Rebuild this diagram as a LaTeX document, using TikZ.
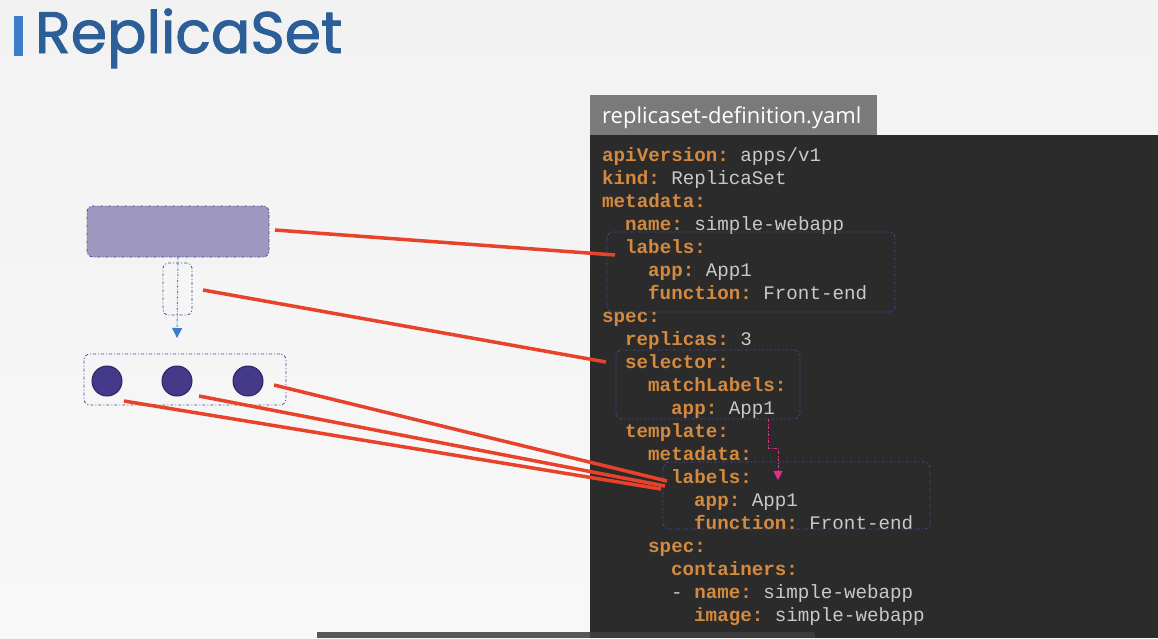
\documentclass[tikz,border=0pt]{standalone}
\usepackage{fontspec}
\setmainfont{Liberation Sans}
\newfontfamily\titlefont{Poppins}[FakeBold=1.6]
\newfontfamily\tabfont{Open Sans}
\newfontfamily\codefont{Liberation Mono}
\usetikzlibrary{arrows.meta}
\definecolor{bg}{HTML}{F2F2F2}
\definecolor{bgb}{HTML}{F8F8F8}
\definecolor{panel}{HTML}{2B2B2B}
\definecolor{tabgray}{HTML}{7A7A7A}
\definecolor{titleblue}{HTML}{2C5F98}
\definecolor{barblue}{HTML}{3B7DC8}
\definecolor{ykey}{HTML}{D48A3E}
\definecolor{yval}{HTML}{C9C9C9}
\definecolor{boxline}{HTML}{4A4890}
\definecolor{rsfill}{HTML}{9E97C0}
\definecolor{podfill}{HTML}{453A8A}
\definecolor{podline}{HTML}{2E2660}
\definecolor{redline}{HTML}{E8432A}
\definecolor{pinkline}{HTML}{E0308A}
\definecolor{botbar}{HTML}{575757}
\definecolor{botbarb}{HTML}{3C3C3C}
\newcommand\ysp{\hspace*{11.52pt}}
\newcommand\ykv[2]{{\color{ykey}\bfseries #1:}\ysp{\color{yval}#2}}
\newcommand\yk[1]{{\color{ykey}\bfseries #1:}}
\tikzset{
  dashbox/.style={draw=boxline, line width=0.8pt, rounded corners=6pt,
    dash pattern=on 3pt off 2pt on 1pt off 2pt},
  codeline/.style={anchor=base west, inner sep=0pt, font=\codefont\fontsize{19.2}{23}\selectfont},
  redconn/.style={draw=redline, line width=3.5pt},
  pod/.style={circle, fill=podfill, draw=podline, line width=1pt, minimum size=30pt, inner sep=0pt},
}
\begin{document}
\begin{tikzpicture}[x=1pt,y=-1pt]
\useasboundingbox (0,0) rectangle (1158,638);
\shade[top color=bg, bottom color=bgb] (0,0) rectangle (1158,638);
% title
\fill[barblue] (14,16) rectangle (23,56);
\node[anchor=base west, inner sep=0pt, text=titleblue, font=\titlefont\fontsize{58.5}{62}\selectfont] (title) at (35,53) {ReplicaSet};
% panel
\fill[panel] (590,135) rectangle (1158,638);
\fill[tabgray] (590,95) rectangle (877,135);
\node[anchor=base west, inner sep=0pt, text=white, font=\tabfont\fontsize{22}{26}\selectfont] (tab) at (602,123) {replicaset-definition.yaml};
\fill[botbar] (317,632) rectangle (590,638);
\fill[botbarb] (590,632) rectangle (815,638);
% code lines
\node[codeline] (l0) at (602,161) {\ykv{apiVersion}{apps/v1}};
\node[codeline] (l1) at (602,184) {\ykv{kind}{ReplicaSet}};
\node[codeline] (l2) at (602,207) {\yk{metadata}};
\node[codeline] (l3) at (625,230) {\ykv{name}{simple-webapp}};
\node[codeline] (l4) at (625,253) {\yk{labels}};
\node[codeline] (l5) at (648,276) {\ykv{app}{App1}};
\node[codeline] (l6) at (648,299) {\ykv{function}{Front-end}};
\node[codeline] (l7) at (602,322) {\yk{spec}};
\node[codeline] (l8) at (625,345) {\ykv{replicas}{3}};
\node[codeline] (l9) at (625,368) {\yk{selector}};
\node[codeline] (l10) at (648,391) {\yk{matchLabels}};
\node[codeline] (l11) at (671,414) {\ykv{app}{App1}};
\node[codeline] (l12) at (625,437) {\yk{template}};
\node[codeline] (l13) at (648,460) {\yk{metadata}};
\node[codeline] (l14) at (671,483) {\yk{labels}};
\node[codeline] (l15) at (694,506) {\ykv{app}{App1}};
\node[codeline] (l16) at (694,529) {\ykv{function}{Front-end}};
\node[codeline] (l17) at (648,552) {\yk{spec}};
\node[codeline] (l18) at (671,575) {\yk{containers}};
\node[codeline] (l19) at (671,598) {{\color{yval}-}\ysp\ykv{name}{simple-webapp}};
\node[codeline] (l20) at (694,621) {\ykv{image}{simple-webapp}};
% code boxes
\draw[dashbox] (607,232) rectangle (895,312);
\draw[dashbox] (616,350) rectangle (800,419);
\draw[dashbox] (663,462) rectangle (930,529);
\coordinate (selb) at (768,419);
\coordinate (lab2t) at (778,480);
\draw[pinkline, line width=0.9pt, dash pattern=on 3pt off 1.5pt on 1pt off 1.5pt, -{Triangle[length=9pt,width=9pt]}]
  (selb) -- (768,448) -- (778,448) -- (lab2t);
% left diagram
\node[draw=boxline, fill=rsfill, line width=0.8pt, rounded corners=6pt,
  dash pattern=on 3pt off 2pt on 1pt off 2pt, minimum width=182pt, minimum height=51pt, inner sep=0pt] (rs) at (178,231.5) {};
\node[dashbox, minimum width=29pt, minimum height=52pt, inner sep=0pt, rounded corners=5pt] (sel) at (177.5,289) {};
\node[dashbox, minimum width=202pt, minimum height=51pt, inner sep=0pt] (pods) at (185,379.5) {};
\node[pod] (p1) at (107,381) {};
\node[pod] (p2) at (177,381) {};
\node[pod] (p3) at (248,381) {};
\coordinate (arrtip) at (177,338);
\draw[barblue, line width=1pt, dash pattern=on 2pt off 1.5pt on 0.6pt off 1.5pt, -{Triangle[length=10pt,width=10pt]}] (rs.south) -- (arrtip);
% red connectors
\coordinate (r1a) at (275,230); \coordinate (r1b) at (615,255);
\coordinate (r2a) at (203,290); \coordinate (r2b) at (606,362);
\coordinate (r3a) at (274,385); \coordinate (r3b) at (667,481);
\coordinate (r4a) at (199,396); \coordinate (r4b) at (665,486);
\coordinate (r5a) at (124,401); \coordinate (r5b) at (661,489);
\draw[redconn] (r1a) -- (r1b);
\draw[redconn] (r2a) -- (r2b);
\draw[redconn] (r3a) -- (r3b);
\draw[redconn] (r4a) -- (r4b);
\draw[redconn] (r5a) -- (r5b);
\end{tikzpicture}
\end{document}
